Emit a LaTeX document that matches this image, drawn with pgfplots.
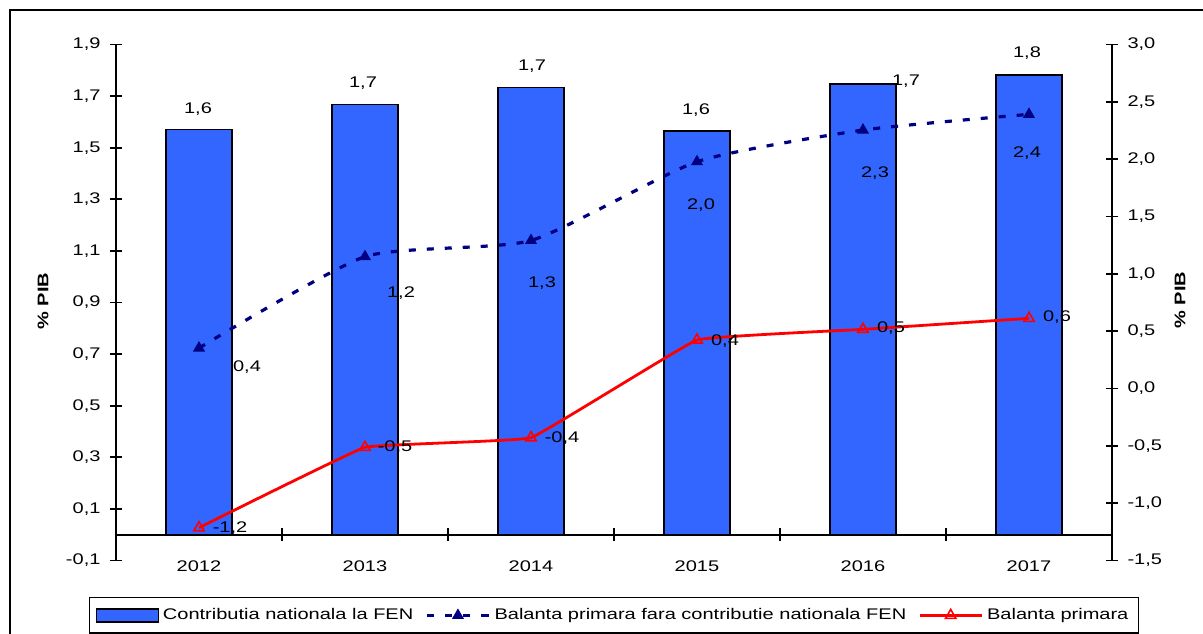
\documentclass[border=0pt]{standalone}
\usepackage{pgfplots}
\pgfplotsset{compat=1.18}
\usepackage{fontspec}
\setmainfont{Liberation Sans}[FakeStretch=1.3]
\definecolor{barblue}{RGB}{51,102,255}
\definecolor{navyline}{RGB}{0,0,128}
\pgfplotsset{
  barlegend/.style={legend image code/.code={\draw[##1] (0pt,-3.3pt) rectangle (31pt,3.3pt);}},
  linelegend/.style={legend image code/.code={\draw[mark repeat=2,mark phase=2,##1]
    plot coordinates {(0pt,0pt) (15.5pt,0pt) (31pt,0pt)};}},
}
\begin{document}
\fontsize{7.7}{9.2}\selectfont
\begin{tikzpicture}
\pgfplotsset{
  every axis/.append style={
    at={(58pt,-280.25pt)}, anchor=south west,
    width=498pt, height=258pt, scale only axis,
    xmin=-0.5, xmax=5.5,
    axis line style={line width=0.9pt},
    tick align=center, major tick length=6pt,
    every tick/.style={line width=0.9pt, black},
    /pgf/number format/use comma,
    /pgf/number format/fixed,
    /pgf/number format/fixed zerofill,
    /pgf/number format/precision=1,
    /pgf/number format/assume math mode=true,
  },
}

% left axis: bars
\begin{axis}[
  ymin=-0.1, ymax=1.9,
  ytick={-0.1,0.1,0.3,0.5,0.7,0.9,1.1,1.3,1.5,1.7,1.9},
  axis y line*=left,
  axis x line*=bottom,
  x axis line style={draw=none},
  xtick={0,1,2,3,4,5},
  xticklabels={2012,2013,2014,2015,2016,2017},
  x tick style={draw=none},
  xticklabel style={yshift=5.5pt},
  yticklabel style={xshift=-2pt},
]
\addplot[ybar, bar shift=0pt, bar width=33pt, fill=barblue, draw=black, line width=0.7pt]
  coordinates {(0,1.571) (1,1.668) (2,1.734) (3,1.565) (4,1.747) (5,1.782)};
% zero line with category separators
\draw[line width=0.9pt] (axis cs:-0.5,0) -- (axis cs:5.5,0);
\draw[line width=0.9pt] (axis cs:0.5,0) ++(0pt,-3.25pt) -- ++(0pt,6.5pt);
\draw[line width=0.9pt] (axis cs:1.5,0) ++(0pt,-3.25pt) -- ++(0pt,6.5pt);
\draw[line width=0.9pt] (axis cs:2.5,0) ++(0pt,-3.25pt) -- ++(0pt,6.5pt);
\draw[line width=0.9pt] (axis cs:3.5,0) ++(0pt,-3.25pt) -- ++(0pt,6.5pt);
\draw[line width=0.9pt] (axis cs:4.5,0) ++(0pt,-3.25pt) -- ++(0pt,6.5pt);
\end{axis}

% right axis: balances
\begin{axis}[
  ymin=-1.5, ymax=3,
  ytick={-1.5,-1,-0.5,0,0.5,1,1.5,2,2.5,3},
  axis y line*=right,
  axis x line=none,
  yticklabel style={xshift=2pt},
  legend columns=3,
  legend style={at={(0.5,-0.0707)}, anchor=north, draw=black, line width=0.7pt,
    inner xsep=3pt, inner ysep=3.5pt,
    /tikz/every even column/.append style={column sep=4pt}},
  legend cell align=left,
  linelegend,
]
\addlegendimage{barlegend, fill=barblue, draw=black, line width=0.7pt}
\addlegendentry{Contributia nationala la FEN}
\addplot[navyline, line width=1.6pt, dash pattern=on 3.5pt off 5.5pt, smooth, tension=0.35,
  mark=triangle*, mark size=3pt, mark options={solid, fill=navyline, line width=0.5pt}]
  coordinates {(0,0.353) (1,1.15) (2,1.291) (3,1.978) (4,2.254) (5,2.391)};
\addlegendentry{Balanta primara fara contributie nationala FEN}
\addplot[red, line width=1.4pt, smooth, tension=0.12,
  mark=triangle, mark size=3pt, mark options={solid, line width=0.8pt}]
  coordinates {(0,-1.214) (1,-0.513) (2,-0.429) (3,0.423) (4,0.516) (5,0.612)};
\addlegendentry{Balanta primara}
\end{axis}

% labels and frame, in pixel units of the reference
\begin{scope}[x=0.5pt, y=-0.5pt]
\draw[line width=1pt] (10,650) -- (10,10) -- (1220,10);
\node[rotate=90, font=\bfseries] at (43,301) {\% PIB};
\node[rotate=90, font=\bfseries] at (1180,300) {\% PIB};
% bar values
\node at (198,109) {1,6};
\node at (363,83) {1,7};
\node at (532,66) {1,7};
\node at (696,110) {1,6};
\node at (906,81) {1,7};
\node at (1027,53) {1,8};
% dashed series values
\node at (247,367) {0,4};
\node at (401,293) {1,2};
\node at (542,283) {1,3};
\node at (701,205) {2,0};
\node at (875,173) {2,3};
\node at (1027,153) {2,4};
% red series values
\node at (230,528) {-1,2};
\node at (395,447) {-0,5};
\node at (562,438) {-0,4};
\node at (725,341) {0,4};
\node at (891,328) {0,5};
\node at (1057,317) {0,6};
\end{scope}
\pgfresetboundingbox
\useasboundingbox (0pt,0pt) rectangle (601.5pt,-316.5pt);
\end{tikzpicture}
\end{document}
